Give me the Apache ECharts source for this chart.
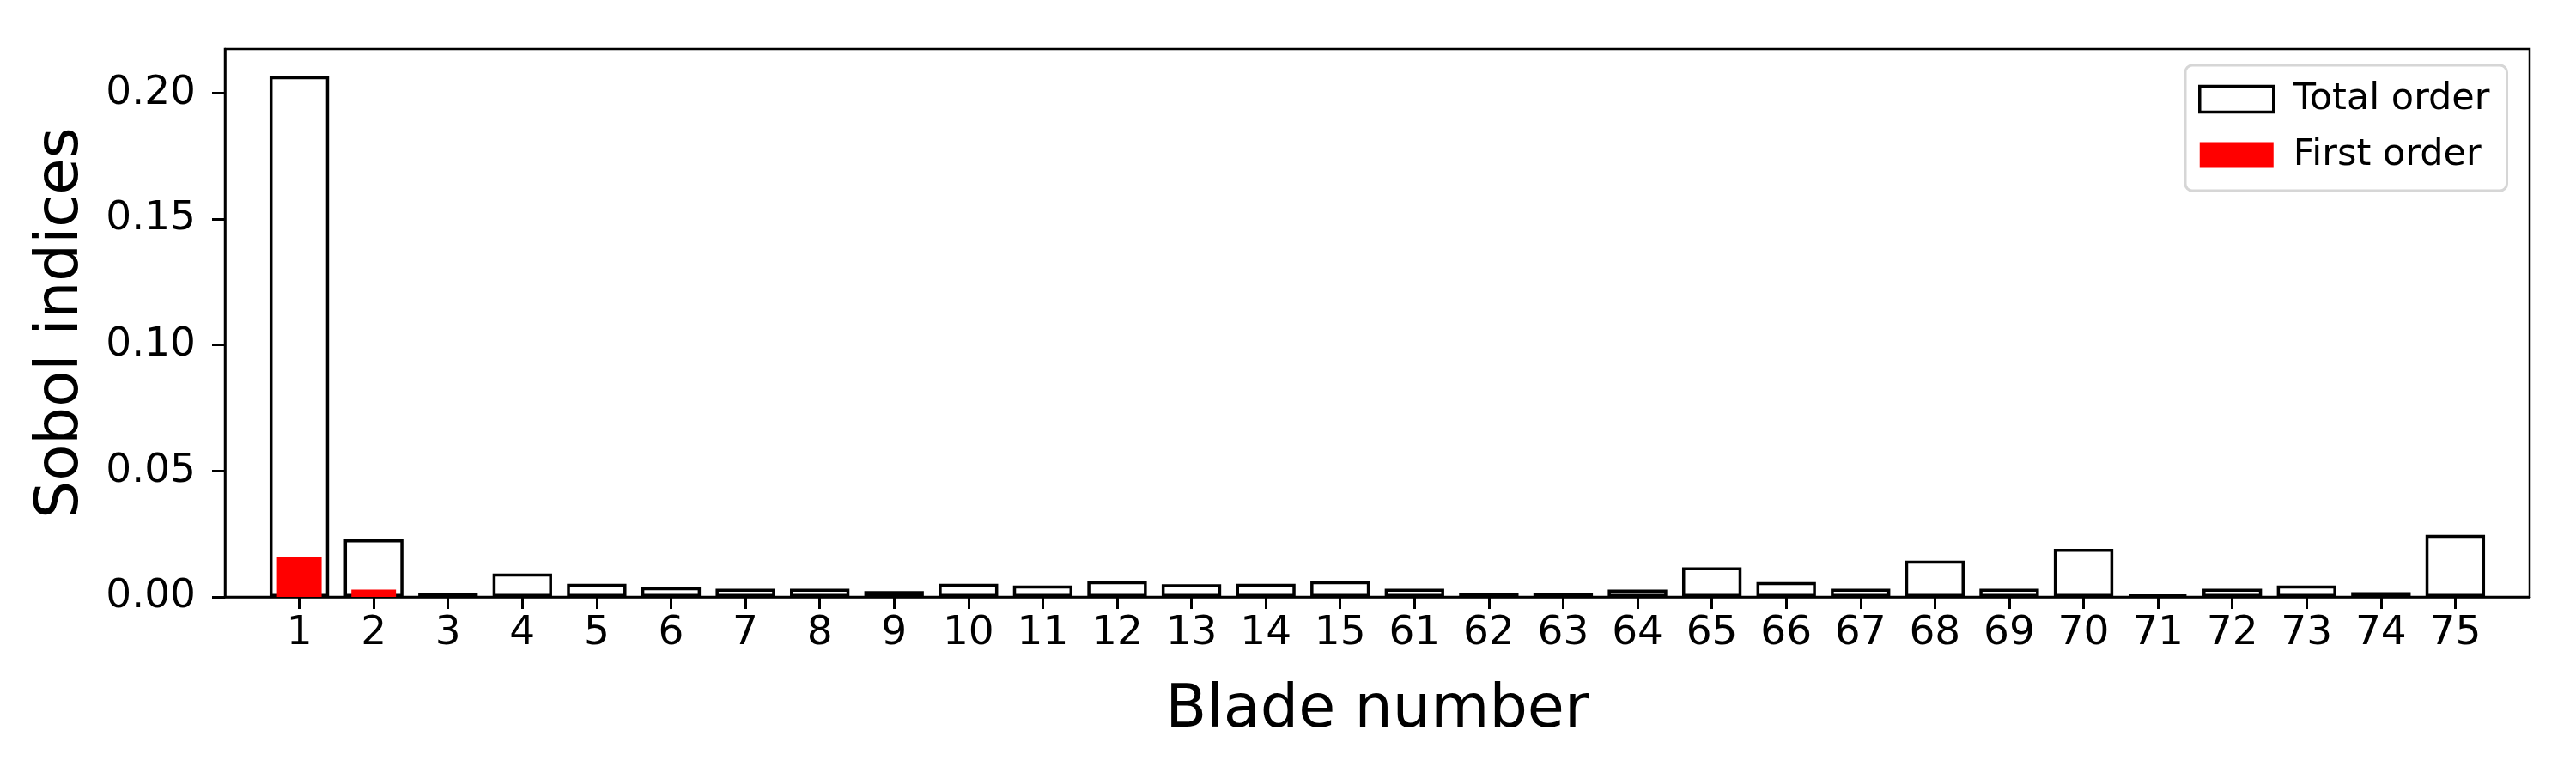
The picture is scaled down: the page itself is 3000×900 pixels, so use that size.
<!DOCTYPE html>
<html>
<head>
<meta charset="utf-8">
<script src="https://cdn.jsdelivr.net/npm/echarts@6/dist/echarts.min.js"></script>
<style>html,body{margin:0;padding:0;background:#fff}#c{width:3000px;height:900px}</style>
</head>
<body>
<div id="c"></div>
<script>
var blades = ['1','2','3','4','5','6','7','8','9','10','11','12','13','14','15','61','62','63','64','65','66','67','68','69','70','71','72','73','74','75'];
var totalOrder = [0.2067, 0.0228, 0.0017, 0.0093, 0.0052, 0.0038, 0.0032, 0.0032, 0.0023, 0.0052, 0.0045, 0.0062, 0.0050, 0.0052, 0.0062, 0.0032, 0.0016, 0.0015, 0.0029, 0.0118, 0.0059, 0.0032, 0.0144, 0.0032, 0.0191, 0.0009, 0.0032, 0.0045, 0.0019, 0.0246];
var firstOrder = [0.0157, 0.0029, 0, 0, 0, 0, 0, 0, 0, 0, 0, 0, 0, 0, 0, 0, 0, 0, 0, 0, 0, 0, 0, 0, 0, 0, 0, 0, 0, 0];
var yTicks = [0, 0.05, 0.10, 0.15, 0.20];

var FONT = 'DejaVu Sans';
var cats = [''].concat(blades).concat(['']);
function pad(arr){ return ['-'].concat(arr).concat(['-']); }
var nCats = cats.length;

function xAxisCfg(show){
  return {
    type: 'category',
    data: cats,
    boundaryGap: false,
    show: show,
    position: 'bottom',
    axisLine: {show: true, lineStyle: {color: '#000', width: 2.5}},
    axisTick: {show: true, length: 14, lineStyle: {color: '#000', width: 3},
      interval: function(i){ return i > 0 && i < nCats - 1; }},
    axisLabel: {interval: 0, color: '#000', fontFamily: FONT, fontSize: 47, margin: 19},
    splitLine: {show: false},
    name: show ? 'Blade number' : '',
    nameLocation: 'middle',
    nameGap: 98,
    nameTextStyle: {color: '#000', fontFamily: FONT, fontSize: 70}
  };
}

var chart = echarts.init(document.getElementById('c'), null, {renderer: 'canvas'});
chart.setOption({
  backgroundColor: '#fff',
  animation: false,
  grid: {left: 262, right: 54, top: 57, bottom: 205, show: true, borderColor: '#000', borderWidth: 2.5, backgroundColor: 'transparent'},
  legend: {
    left: 2545, top: 76,
    orient: 'vertical',
    icon: 'rect',
    itemWidth: 86, itemHeight: 30, itemGap: 22,
    padding: [18, 20, 20, 15],
    backgroundColor: '#fff',
    borderColor: '#d6d6d6', borderWidth: 3, borderRadius: 8,
    textStyle: {color: '#000', fontFamily: FONT, fontSize: 43, padding: [0, 0, 0, 18]},
    data: [
      {name: 'Total order', itemStyle: {color: '#fff', borderColor: '#000', borderWidth: 3.5}},
      {name: 'First order', itemStyle: {color: '#ff0000', borderWidth: 0}}
    ]
  },
  xAxis: [xAxisCfg(true), xAxisCfg(false)],
  yAxis: {
    type: 'value',
    min: 0, max: 0.2175, interval: 0.05,
    name: 'Sobol indices',
    nameLocation: 'middle',
    nameGap: 155,
    nameTextStyle: {color: '#000', fontFamily: FONT, fontSize: 69},
    axisLine: {show: true, lineStyle: {color: '#000', width: 2.5}},
    axisTick: {show: true, length: 15, lineStyle: {color: '#000', width: 3}, customValues: yTicks},
    axisLabel: {color: '#000', fontFamily: FONT, fontSize: 47, margin: 34, customValues: yTicks,
      formatter: function(v){ return v.toFixed(2); }},
    splitLine: {show: false}
  },
  series: [
    {
      name: 'Total order', type: 'bar', xAxisIndex: 0,
      data: pad(totalOrder), barWidth: '80%',
      itemStyle: {color: '#fff', borderColor: '#000', borderWidth: 3.5},
      z: 2
    },
    {
      name: 'First order', type: 'bar', xAxisIndex: 1,
      data: pad(firstOrder), barWidth: '60%',
      itemStyle: {color: '#ff0000', borderWidth: 0},
      z: 3
    }
  ]
});
</script>
</body>
</html>
